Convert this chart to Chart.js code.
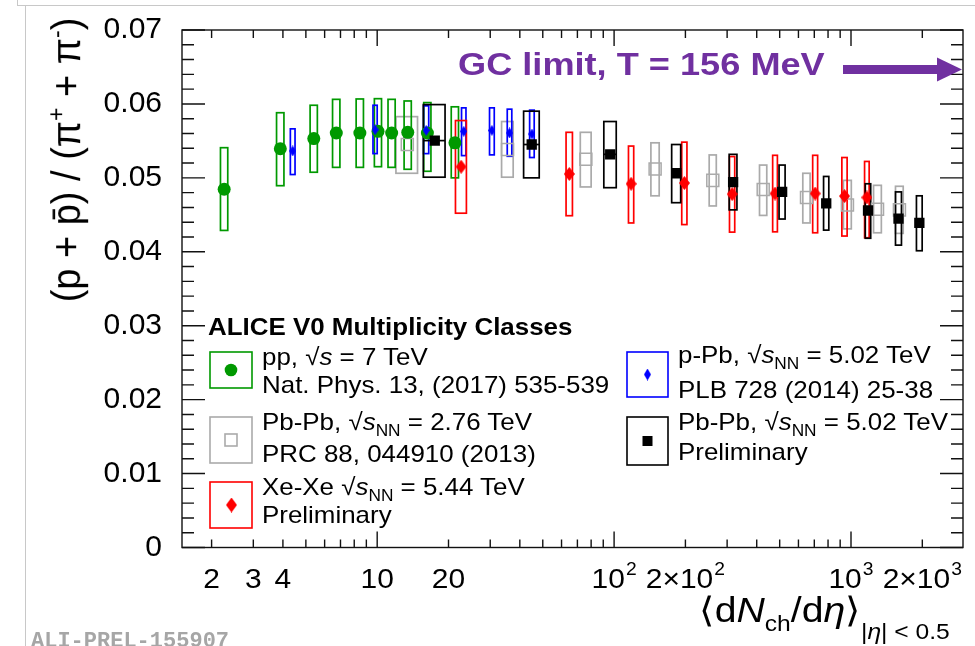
<!DOCTYPE html>
<html>
<head>
<meta charset="utf-8">
<script src="https://cdn.jsdelivr.net/npm/chart.js@4.4.0/dist/chart.umd.min.js"></script>
<style>
html, body { margin: 0; padding: 0; background: #fff; }
#wrap { position: relative; width: 975px; height: 646px; overflow: hidden; font-family: "Liberation Sans", Arial, sans-serif; }
#chart { position: absolute; left: 0; top: 0; }
.t { position: absolute; white-space: nowrap; transform-origin: 0 0; transform: scaleX(1.08); font-size: 24px; line-height: 24px; color: #000; z-index: 2; }
.b { font-weight: bold; }
.i { font-style: italic; }
.sub { position: relative; top: 6px; font-size: 16px; }
.gc { position: absolute; left: 458px; top: 48px; white-space: nowrap; font-weight: bold; font-size: 32px; line-height: 32px; color: #7030a0; transform-origin: 0 0; transform: scaleX(1.13); z-index: 2; }
.ytitle { position: absolute; left: -134px; top: 138px; width: 400px; height: 44px; line-height: 44px; font-size: 38px; text-align: center; white-space: nowrap; transform: rotate(-90deg) scaleY(1.08); z-index: 2; }
.ytitle .sup { position: relative; top: -15px; font-size: 23px; }
.xtitle { position: absolute; left: 699px; top: 592px; font-size: 35px; line-height: 35px; white-space: nowrap; transform-origin: 0 0; transform: scaleX(1.12); z-index: 2; }
.xtitle .s1 { position: relative; top: 9px; font-size: 22px; }
.xtitle .s2 { position: relative; top: 17px; font-size: 22px; }
.wm { position: absolute; left: 31px; top: 631px; font-family: "Liberation Mono", monospace; font-weight: bold; font-size: 22px; line-height: 22px; color: #a6a6a6; white-space: nowrap; z-index: 2; }
.ln { position: absolute; background: #c8c8c8; z-index: 1; }
</style>
</head>
<body>
<div id="wrap">
  <canvas id="chart" width="975" height="646"></canvas>
  <div class="ln" style="left:25px; top:5px; width:1px; height:641px;"></div>
  <div class="ln" style="left:17px; top:5px; width:958px; height:1px;"></div>
  <div class="ln" style="left:17px; top:0px; width:1px; height:5px;"></div>

  <div class="gc">GC limit, T = 156 MeV</div>

  <div class="ytitle">(p + p&#772;) / (π<span class="sup">+</span> + π<span class="sup">-</span>)</div>
  <div class="xtitle">⟨d<span class="i">N</span><span class="s1">ch</span>/d<span class="i">η</span>⟩<span class="s2">|<span class="i">η</span>| &lt; 0.5</span></div>

  <div class="t b" style="left:208px; top:315px;">ALICE V0 Multiplicity Classes</div>
  <div class="t" style="left:262px; top:345px;">pp, √<span class="i">s</span> = 7 TeV</div>
  <div class="t" style="left:262px; top:373px;">Nat. Phys. 13, (2017) 535-539</div>
  <div class="t" style="left:262px; top:410px;">Pb-Pb, √<span class="i">s</span><span class="sub">NN</span> = 2.76 TeV</div>
  <div class="t" style="left:262px; top:442px;">PRC 88, 044910 (2013)</div>
  <div class="t" style="left:262px; top:475px;">Xe-Xe √<span class="i">s</span><span class="sub">NN</span> = 5.44 TeV</div>
  <div class="t" style="left:262px; top:503px;">Preliminary</div>

  <div class="t" style="left:678px; top:343px;">p-Pb, √<span class="i">s</span><span class="sub">NN</span> = 5.02 TeV</div>
  <div class="t" style="left:678px; top:378px;">PLB 728 (2014) 25-38</div>
  <div class="t" style="left:678px; top:410px;">Pb-Pb, √<span class="i">s</span><span class="sub">NN</span> = 5.02 TeV</div>
  <div class="t" style="left:678px; top:440px;">Preliminary</div>

  <div class="wm">ALI-PREL-155907</div>
</div>
<script>
// axis ranges and ticks
const xMin = 1.5;
const xMax = 2970;
const yMin = 0;
const yMax = 0.07;
const yMajorTicks = [0, 0.01, 0.02, 0.03, 0.04, 0.05, 0.06, 0.07];
const xMajorTicks = [10, 100, 1000];
const xMinorTicks = [2, 3, 4, 5, 6, 7, 8, 9, 20, 30, 40, 50, 60, 70, 80, 90,
    200, 300, 400, 500, 600, 700, 800, 900, 2000];
const xLabelValues = [2, 3, 4, 10, 20, 100, 200, 1000, 2000];
const xLabelBase = ['2', '3', '4', '10', '20', '10', '2×10', '10', '2×10'];
const xLabelSup = ['', '', '', '', '', '2', '2', '3', '3'];

// pp, sqrt(s) = 7 TeV
const ppX = [2.26, 3.90, 5.40, 6.72, 8.45, 10.08, 11.51, 13.46, 16.29, 21.29];
const ppXErr = [0.08, 0.14, 0.19, 0.24, 0.30, 0.35, 0.40, 0.47, 0.57, 0.75];
const ppY = [0.04846, 0.05394, 0.05531, 0.05607, 0.05607, 0.05629, 0.05607, 0.05616, 0.05607, 0.05474];
const ppSysLo = [0.04289, 0.04894, 0.05076, 0.05142, 0.05142, 0.05151, 0.05142, 0.05116, 0.05089, 0.05000];
const ppSysHi = [0.05408, 0.05881, 0.05982, 0.06062, 0.06067, 0.06071, 0.06062, 0.06040, 0.06018, 0.05961];

// p-Pb, 5.02 TeV
const pPbX = [4.4, 9.8, 16.1, 23.2, 30.5, 36.2, 45.0];
const pPbXErr = [0.1, 0.2, 0.4, 0.5, 0.7, 0.8, 1.0];
const pPbY = [0.05364, 0.05650, 0.05642, 0.05629, 0.05642, 0.05607, 0.05593];
const pPbSysLo = [0.05045, 0.05328, 0.05328, 0.05301, 0.05311, 0.05292, 0.05275];
const pPbSysHi = [0.05663, 0.05982, 0.05974, 0.05947, 0.05947, 0.05929, 0.05916];

// Pb-Pb, 2.76 TeV
const pbpb276X = [13.4, 35.5, 76, 149, 261, 426, 649, 966, 1294, 1601];
const pbpb276XErr = [1.4, 2, 4, 6, 9, 15, 23, 37, 49, 60];
const pbpb276Y = [0.05451, 0.05385, 0.05252, 0.05119, 0.04966, 0.04841, 0.04735, 0.04634, 0.04575, 0.04567];
const pbpb276SysLo = [0.05062, 0.05009, 0.04877, 0.04757, 0.04620, 0.04492, 0.04390, 0.04310, 0.04257, 0.04249];
const pbpb276SysHi = [0.05828, 0.05762, 0.05616, 0.05474, 0.05310, 0.05173, 0.05062, 0.04966, 0.04899, 0.04886];

// Xe-Xe, 5.44 TeV
const xexeX = [22.6, 64.7, 118, 198, 315, 478, 706, 939, 1167];
const xexeXErr = [1.2, 2, 3, 5, 8, 11, 17, 24, 26];
const xexeY = [0.05151, 0.05053, 0.04920, 0.04930, 0.04780, 0.04788, 0.04788, 0.04753, 0.04735];
const xexeSysLo = [0.04522, 0.04488, 0.04390, 0.04368, 0.04266, 0.04270, 0.04257, 0.04213, 0.04190];
const xexeSysHi = [0.05775, 0.05616, 0.05430, 0.05483, 0.05288, 0.05305, 0.05305, 0.05275, 0.05222];

// Pb-Pb, 5.02 TeV
const pbpb502X = [17.5, 44.9, 96.3, 183, 318, 512, 786, 1180, 1587, 1943];
const pbpb502XErr = [1.84, 3.4, 5.8, 8, 12, 15, 20, 31, 46, 54];
const pbpb502Y = [0.05504, 0.05451, 0.05318, 0.05062, 0.04943, 0.04810, 0.04655, 0.04558, 0.04448, 0.04390];
const pbpb502SysLo = [0.05009, 0.05000, 0.04867, 0.04664, 0.04567, 0.04443, 0.04293, 0.04183, 0.04090, 0.04014];
const pbpb502SysHi = [0.05991, 0.05902, 0.05762, 0.05451, 0.05318, 0.05173, 0.05019, 0.04920, 0.04810, 0.04757];

const GREEN = '#009900';
const GRAY = '#aaaaaa';
const BLUE = '#0000ff';
const RED = '#ff0000';
const BLACK = '#000000';
const PURPLE = '#7030a0';

function makeDiamond(w, h, color) {
    const c = document.createElement('canvas');
    c.width = w;
    c.height = h;
    const g = c.getContext('2d');
    g.fillStyle = color;
    g.beginPath();
    g.moveTo(w / 2, 0);
    g.lineTo(w, h / 2);
    g.lineTo(w / 2, h);
    g.lineTo(0, h / 2);
    g.closePath();
    g.fill();
    return c;
}

const blueDiamond = makeDiamond(7, 11, BLUE);
const redDiamond = makeDiamond(11, 14, RED);

// boxes drawn in this order (back to front)
const boxSeries = [
    { x: pbpb276X, xe: pbpb276XErr, y: pbpb276Y, lo: pbpb276SysLo, hi: pbpb276SysHi, color: GRAY, xbar: false },
    { x: ppX, xe: ppXErr, y: ppY, lo: ppSysLo, hi: ppSysHi, color: GREEN, xbar: false },
    { x: pPbX, xe: pPbXErr, y: pPbY, lo: pPbSysLo, hi: pPbSysHi, color: BLUE, xbar: false },
    { x: xexeX, xe: xexeXErr, y: xexeY, lo: xexeSysLo, hi: xexeSysHi, color: RED, xbar: false },
    { x: pbpb502X, xe: pbpb502XErr, y: pbpb502Y, lo: pbpb502SysLo, hi: pbpb502SysHi, color: BLACK, xbar: true }
];

function points(xs, ys) {
    return xs.map((v, i) => ({ x: v, y: ys[i] }));
}

const sysBoxes = {
    id: 'sysBoxes',
    beforeDatasetsDraw(chart) {
        const ctx = chart.ctx;
        const xs = chart.scales.x;
        const ys = chart.scales.y;
        ctx.save();
        ctx.lineWidth = 1.7;
        boxSeries.forEach(s => {
            ctx.strokeStyle = s.color;
            s.x.forEach((v, i) => {
                const x0 = xs.getPixelForValue(v - s.xe[i]);
                const x1 = xs.getPixelForValue(v + s.xe[i]);
                const y0 = ys.getPixelForValue(s.hi[i]);
                const y1 = ys.getPixelForValue(s.lo[i]);
                ctx.strokeRect(x0, y0, x1 - x0, y1 - y0);
                if (s.xbar) {
                    const yc = ys.getPixelForValue(s.y[i]);
                    ctx.beginPath();
                    ctx.moveTo(x0, yc);
                    ctx.lineTo(x1, yc);
                    ctx.stroke();
                }
            });
        });
        ctx.restore();
    }
};

const frameAndDecor = {
    id: 'frameAndDecor',
    afterDraw(chart) {
        const ctx = chart.ctx;
        const a = chart.chartArea;
        const xs = chart.scales.x;
        const ys = chart.scales.y;
        ctx.save();
        ctx.strokeStyle = '#111';
        ctx.lineWidth = 1.4;
        ctx.strokeRect(a.left, a.top, a.right - a.left, a.bottom - a.top);

        // y ticks, inward on both sides
        ctx.beginPath();
        for (let k = 0; k <= 35; k++) {
            const y = ys.getPixelForValue(k * 0.002);
            const len = (k % 5 === 0) ? 23 : 12;
            ctx.moveTo(a.left, y);
            ctx.lineTo(a.left + len, y);
            ctx.moveTo(a.right, y);
            ctx.lineTo(a.right - len, y);
        }
        // x ticks, inward on both sides
        xMajorTicks.concat(xMinorTicks).forEach(v => {
            const x = xs.getPixelForValue(v);
            const len = xMajorTicks.includes(v) ? 16 : 8;
            ctx.moveTo(x, a.bottom);
            ctx.lineTo(x, a.bottom - len);
            ctx.moveTo(x, a.top);
            ctx.lineTo(x, a.top + len);
        });
        ctx.stroke();

        // x tick labels with superscripts
        ctx.fillStyle = '#000';
        ctx.textBaseline = 'alphabetic';
        ctx.textAlign = 'left';
        xLabelValues.forEach((v, i) => {
            const px = xs.getPixelForValue(v);
            ctx.font = '28px "Liberation Sans", Arial, sans-serif';
            const wb = ctx.measureText(xLabelBase[i]).width;
            ctx.font = '18px "Liberation Sans", Arial, sans-serif';
            const wsup = xLabelSup[i] ? ctx.measureText(xLabelSup[i]).width + 1 : 0;
            const total = wb + wsup;
            ctx.save();
            ctx.translate(px, 588);
            ctx.scale(1.07, 1);
            ctx.font = '28px "Liberation Sans", Arial, sans-serif';
            ctx.fillText(xLabelBase[i], -total / 2, 0);
            if (xLabelSup[i]) {
                ctx.font = '18px "Liberation Sans", Arial, sans-serif';
                ctx.fillText(xLabelSup[i], -total / 2 + wb + 1, -13);
            }
            ctx.restore();
        });

        // GC limit arrow
        ctx.fillStyle = PURPLE;
        ctx.fillRect(843, 65, 97, 9);
        ctx.beginPath();
        ctx.moveTo(937, 57.5);
        ctx.lineTo(962, 69.5);
        ctx.lineTo(937, 81.5);
        ctx.closePath();
        ctx.fill();

        // legend icons
        ctx.lineWidth = 1.6;
        const icons = [
            [210, 352, 42, 36, GREEN], [210, 417, 42, 46, GRAY], [210, 482, 42, 46, RED],
            [627, 352, 41, 45, BLUE], [627, 417, 41, 48, BLACK]
        ];
        icons.forEach(ic => {
            ctx.strokeStyle = ic[4];
            ctx.strokeRect(ic[0], ic[1], ic[2], ic[3]);
        });
        ctx.fillStyle = GREEN;
        ctx.beginPath();
        ctx.arc(231, 370, 6.3, 0, Math.PI * 2);
        ctx.fill();
        ctx.strokeStyle = GRAY;
        ctx.strokeRect(225, 434, 12, 12);
        ctx.drawImage(makeDiamond(11, 15, RED), 226, 497.5);
        ctx.drawImage(makeDiamond(7, 12, BLUE), 644, 368.5);
        ctx.fillStyle = BLACK;
        ctx.fillRect(642.5, 436, 10, 10);
        ctx.restore();
    }
};

new Chart(document.getElementById('chart'), {
    type: 'scatter',
    data: {
        datasets: [
            {
                label: 'Pb-Pb 5.02 TeV', order: 1,
                data: points(pbpb502X, pbpb502Y),
                pointStyle: 'rect', pointRadius: 7.3, pointBorderWidth: 0,
                pointBackgroundColor: BLACK, pointBorderColor: BLACK
            },
            {
                label: 'Xe-Xe 5.44 TeV', order: 2,
                data: points(xexeX, xexeY),
                pointStyle: redDiamond, pointRadius: 6, pointBorderWidth: 0
            },
            {
                label: 'p-Pb 5.02 TeV', order: 3,
                data: points(pPbX, pPbY),
                pointStyle: blueDiamond, pointRadius: 5, pointBorderWidth: 0
            },
            {
                label: 'pp 7 TeV', order: 4,
                data: points(ppX, ppY),
                pointStyle: 'circle', pointRadius: 6.5, pointBorderWidth: 0,
                pointBackgroundColor: GREEN, pointBorderColor: GREEN
            },
            {
                label: 'Pb-Pb 2.76 TeV', order: 5,
                data: points(pbpb276X, pbpb276Y),
                pointStyle: 'rect', pointRadius: 8.5, pointBorderWidth: 1.5,
                pointBackgroundColor: 'rgba(0,0,0,0)', pointBorderColor: GRAY
            }
        ]
    },
    options: {
        responsive: false,
        animation: false,
        devicePixelRatio: 1,
        layout: { padding: { left: 0, right: 12, top: 19.5, bottom: 0 } },
        plugins: {
            legend: { display: false },
            tooltip: { enabled: false }
        },
        scales: {
            x: {
                type: 'logarithmic',
                min: xMin,
                max: xMax,
                grid: { display: false },
                border: { display: false },
                ticks: { display: false },
                afterFit(scale) { scale.height = 98.5; }
            },
            y: {
                type: 'linear',
                min: yMin,
                max: yMax,
                grid: { display: false },
                border: { display: false },
                afterBuildTicks(scale) {
                    scale.ticks = yMajorTicks.map(v => ({ value: v }));
                },
                afterFit(scale) { scale.width = 182; },
                ticks: {
                    padding: 12,
                    color: '#000',
                    autoSkip: false,
                    font: { family: '"Liberation Sans", Arial, sans-serif', size: 30 },
                    callback: v => (v === 0 ? '0' : v.toFixed(2))
                }
            }
        }
    },
    plugins: [sysBoxes, frameAndDecor]
});
</script>
</body>
</html>
